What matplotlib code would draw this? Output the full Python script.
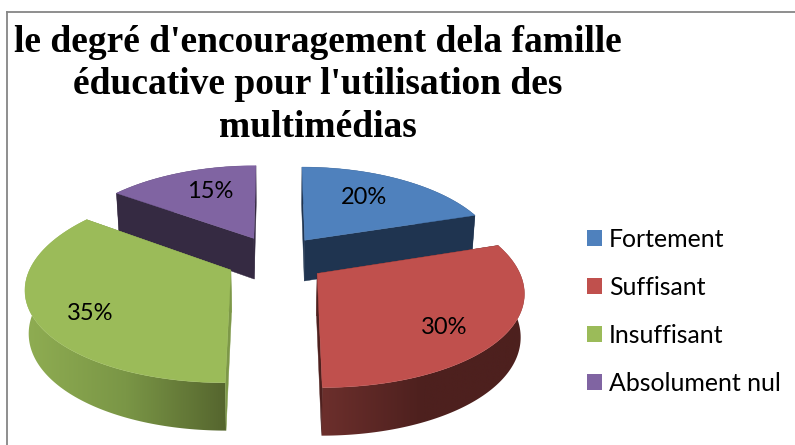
import numpy as np
import matplotlib
matplotlib.use("Agg")
import matplotlib.pyplot as plt
from matplotlib.patches import Polygon, Patch
from matplotlib.colors import LinearSegmentedColormap

# ---- data ----
categories = ["Fortement", "Suffisant", "Insuffisant", "Absolument nul"]
values = [20, 30, 35, 15]
percent_labels = ["20%", "30%", "35%", "15%"]
title_text = "le degré d'encouragement dela famille\néducative pour l'utilisation des\nmultimédias"

# ---- style ----
top_colors = ["#4f81bd", "#c0504d", "#9bbb59", "#8064a2"]
cut_colors = ["#1f3450", "#4e201e", "#7d9848", "#352a42"]
side_ramps = [["#1f3450", "#1f3450"],
              ["#6c2f2c", "#4d201e", "#4d201e"],
              ["#8fad52", "#7a9646", "#55652e"],
              ["#352a42", "#352a42"]]
label_pos = [(364, 198), (444, 327), (90, 314), (210, 192)]

# ---- projection geometry (pixels) ----
CX, CY = 276.0, 259.0
A, B = 197.0, 90.5
EX, EY = 50.0, 24.0
CPX, CPY = 0.002, 0.00178


def project(u, v, um, vm):
    Y = B * v + EY * vm
    x = A * u / (1 + CPX * Y) + EX * um / (1 + 0.6 * CPX * Y)
    return CX + x, CY - Y / (1 + CPY * Y)


def lower(x, y):
    return CX + (x - CX) * 0.985, y + 41 + (y - 245) * 0.05


fig = plt.figure(figsize=(7.95, 4.45), dpi=100)
ax = fig.add_axes([0, 0, 1, 1])
ax.set_xlim(0, 795)
ax.set_ylim(445, 0)
ax.axis("off")

# chart frame
ax.plot([7, 7], [445, 12], color="#868686", lw=1.3, zorder=1)
ax.plot([7, 795], [12, 12], color="#868686", lw=1.3, zorder=1)

fractions = np.array(values) / sum(values)
ends = np.cumsum(fractions) * 2 * np.pi
starts = ends - fractions * 2 * np.pi

z = 2
for i in [3, 0, 2, 1]:  # back to front
    t = np.linspace(starts[i], ends[i], 120)
    mid = (starts[i] + ends[i]) / 2
    um, vm = np.sin(mid), np.cos(mid)
    ax_x, ax_y = project(np.sin(t), np.cos(t), um, vm)
    ap_x, ap_y = project(0.0, 0.0, um, vm)
    lo_x, lo_y = lower(ax_x, ax_y)
    alo_x, alo_y = lower(ap_x, ap_y)

    # outer wall with gradient
    wall = np.column_stack([np.r_[ax_x, lo_x[::-1]], np.r_[ax_y, lo_y[::-1]]])
    patch = Polygon(wall, closed=True, fc="none", ec="none", zorder=z)
    ax.add_patch(patch)
    cmap = LinearSegmentedColormap.from_list("r", side_ramps[i])
    im = ax.imshow(np.linspace(0, 1, 256)[None, :], cmap=cmap, aspect="auto",
                   extent=[wall[:, 0].min(), wall[:, 0].max(), wall[:, 1].max(), wall[:, 1].min()],
                   zorder=z, clip_on=True)
    im.set_clip_path(patch)
    z += 1
    # two cut faces
    for k in (0, -1):
        ax.add_patch(Polygon([(ap_x, ap_y), (ax_x[k], ax_y[k]), (lo_x[k], lo_y[k]), (alo_x, alo_y)],
                             closed=True, fc=cut_colors[i], ec=cut_colors[i], lw=0.3, zorder=z))
    z += 1
    # top face
    ax.add_patch(Polygon(np.column_stack([np.r_[ap_x, ax_x], np.r_[ap_y, ax_y]]), closed=True,
                         fc=top_colors[i], ec=top_colors[i], lw=0.3, zorder=z))
    z += 1

ax.set_xlim(0, 795)
ax.set_ylim(445, 0)

body_font = ["Lato", "DejaVu Sans"]
for txt, (x, y) in zip(percent_labels, label_pos):
    ax.text(x, y, txt, ha="center", va="center", fontsize=17, family=body_font, color="black", zorder=50)

ax.text(318, 85, title_text, ha="center", va="center", fontsize=27, fontweight="bold",
        family="Liberation Serif", linespacing=1.27, color="black", zorder=50)

handles = [Patch(fc=c, ec="none", label=n) for c, n in zip(top_colors, categories)]
ax.legend(handles=handles, loc="upper left", bbox_to_anchor=(587 / 795, 1 - 228 / 445),
          bbox_transform=ax.transAxes, frameon=False, prop={"family": "Lato", "size": 17.9},
          handlelength=0.6, handleheight=0.6, handletextpad=0.28, labelspacing=1.0,
          borderpad=0, borderaxespad=0)

fig.savefig("out.png", dpi=100)
